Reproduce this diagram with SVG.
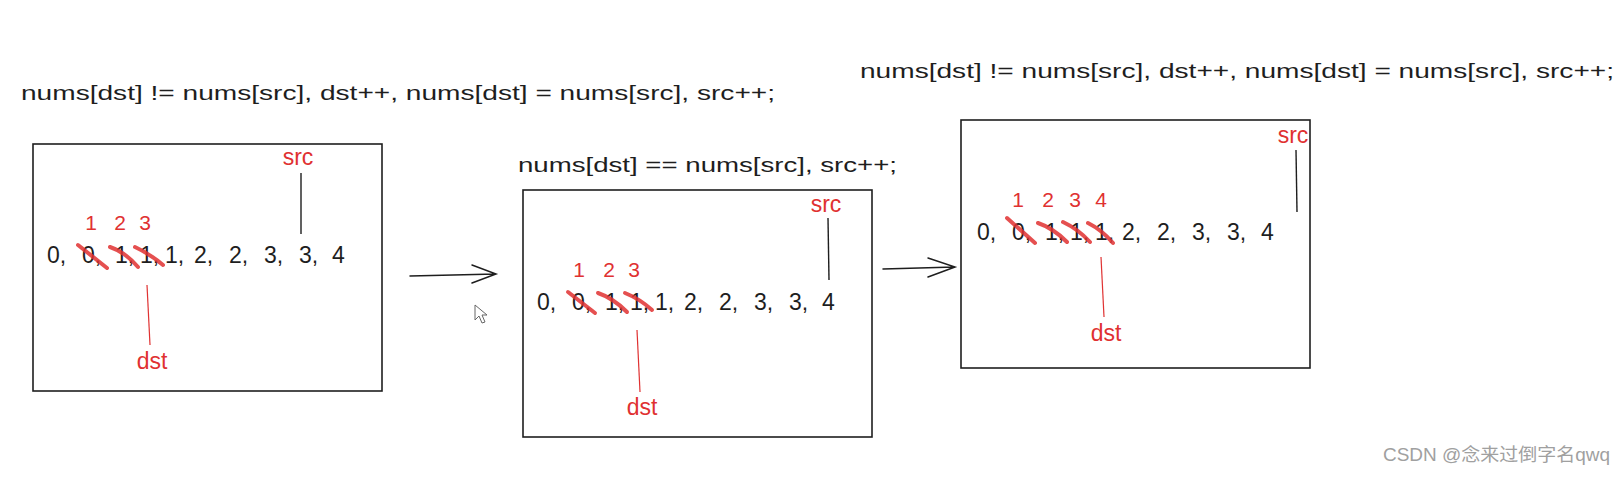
<svg xmlns="http://www.w3.org/2000/svg" width="1624" height="477" viewBox="0 0 1624 477">
<style>
.box{fill:#fff;stroke:#1e1e1e;stroke-width:1.6}
.title{font-family:"Liberation Sans",sans-serif;font-size:20px;fill:#1e1e1e}
.num{font-family:"Liberation Sans",sans-serif;font-size:23px;fill:#1e1e1e}
.red{font-family:"Liberation Sans",sans-serif;font-size:21px;fill:#e03131}
.lbl{font-family:"Liberation Sans",sans-serif;font-size:23px;fill:#e03131}
.strike{stroke:#e03131;stroke-width:4;stroke-linecap:round;opacity:0.85;fill:none}
.rline{stroke:#e03131;stroke-width:1.2;fill:none}
.kline{stroke:#1e1e1e;stroke-width:1.4;fill:none}
.conn{stroke:#1e1e1e;stroke-width:1.5;fill:none;stroke-linecap:round}
.wm{font-family:"Liberation Sans","Noto Sans CJK SC",sans-serif;font-size:18px;fill:#a0a0a0}
</style>
<rect width="1624" height="477" fill="#fff"/>

<text class="title" x="21" y="100" textLength="754" lengthAdjust="spacingAndGlyphs">nums[dst] != nums[src], dst++, nums[dst] = nums[src], src++;</text>
<text class="title" x="518" y="172" textLength="379" lengthAdjust="spacingAndGlyphs">nums[dst] == nums[src], src++;</text>
<text class="title" x="860" y="78" textLength="754" lengthAdjust="spacingAndGlyphs">nums[dst] != nums[src], dst++, nums[dst] = nums[src], src++;</text>

<g id="box1">
<rect class="box" x="33" y="144" width="349" height="247"/>
<text class="num" y="263"><tspan x="47">0,</tspan><tspan x="82">0,</tspan><tspan x="115">1,</tspan><tspan x="140">1,</tspan><tspan x="165">1,</tspan><tspan x="194">2,</tspan><tspan x="229">2,</tspan><tspan x="264">3,</tspan><tspan x="299">3,</tspan><tspan x="332">4</tspan></text>
<text class="red" y="230" text-anchor="middle"><tspan x="91">1</tspan><tspan x="120">2</tspan><tspan x="145">3</tspan></text>
<path class="strike" d="M78,245 L107,268 M110,247 Q125,252 138,267 M135,247 Q150,254 163,265"/>
<text class="lbl" x="298" y="165" text-anchor="middle">src</text>
<line class="kline" x1="301" y1="173" x2="301" y2="234"/>
<line class="rline" x1="147" y1="285" x2="150" y2="345"/>
<text class="lbl" x="152" y="369" text-anchor="middle">dst</text>
</g>

<g id="box2">
<rect class="box" x="523" y="190" width="349" height="247"/>
<text class="num" y="310"><tspan x="537">0,</tspan><tspan x="572">0,</tspan><tspan x="605">1,</tspan><tspan x="630">1,</tspan><tspan x="655">1,</tspan><tspan x="684">2,</tspan><tspan x="719">2,</tspan><tspan x="754">3,</tspan><tspan x="789">3,</tspan><tspan x="822">4</tspan></text>
<text class="red" y="277" text-anchor="middle"><tspan x="579">1</tspan><tspan x="609">2</tspan><tspan x="634">3</tspan></text>
<path class="strike" d="M568,292 L595,313 M598,293 Q613,298 627,312 M625,293 Q640,299 652,310"/>
<text class="lbl" x="826" y="212" text-anchor="middle">src</text>
<line class="kline" x1="828" y1="218" x2="829" y2="280"/>
<line class="rline" x1="637" y1="330" x2="640" y2="392"/>
<text class="lbl" x="642" y="415" text-anchor="middle">dst</text>
</g>

<g id="box3">
<rect class="box" x="961" y="120" width="349" height="248"/>
<text class="num" y="240"><tspan x="977">0,</tspan><tspan x="1012">0,</tspan><tspan x="1045">1,</tspan><tspan x="1070">1,</tspan><tspan x="1095">1,</tspan><tspan x="1122">2,</tspan><tspan x="1157">2,</tspan><tspan x="1192">3,</tspan><tspan x="1227">3,</tspan><tspan x="1261">4</tspan></text>
<text class="red" y="207" text-anchor="middle"><tspan x="1018">1</tspan><tspan x="1048">2</tspan><tspan x="1075">3</tspan><tspan x="1101">4</tspan></text>
<path class="strike" d="M1007,218 L1035,243 M1038,223 Q1053,228 1067,242 M1063,222 Q1078,229 1090,242 M1088,223 Q1102,230 1113,243"/>
<text class="lbl" x="1293" y="143" text-anchor="middle">src</text>
<line class="kline" x1="1296" y1="150" x2="1297" y2="212"/>
<line class="rline" x1="1101" y1="257" x2="1104" y2="317"/>
<text class="lbl" x="1106" y="341" text-anchor="middle">dst</text>
</g>

<g id="connectors">
<path class="conn" d="M410,276 L496,274 M472,265 L496,274 L472,283"/>
<path class="conn" d="M883,269 L955,267 M928,258 L955,267 L928,277"/>
</g>

<path d="M475,305 L475,320 L479,316 L482,323 L485,322 L482,315 L487,315 Z" fill="#fff" stroke="#666" stroke-width="1"/>

<text class="wm" x="1383" y="461" textLength="227" lengthAdjust="spacingAndGlyphs">CSDN @念来过倒字名qwq</text>
</svg>
